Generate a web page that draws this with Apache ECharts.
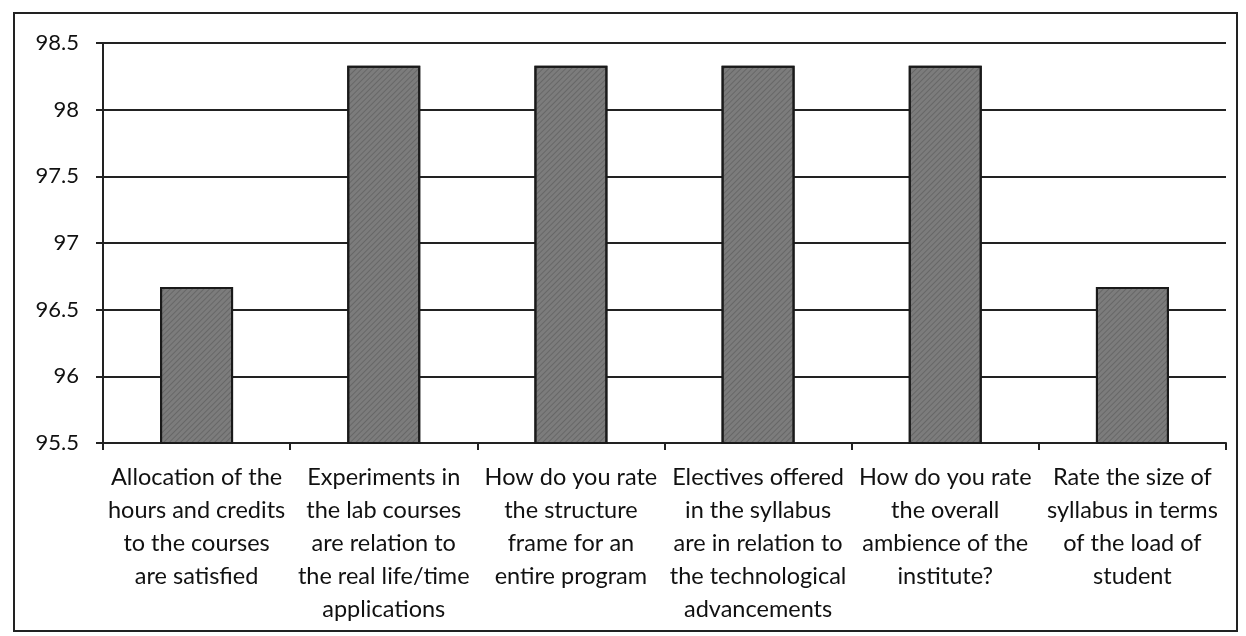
<!DOCTYPE html>
<html>
<head>
<meta charset="utf-8">
<script src="https://cdn.jsdelivr.net/npm/echarts@6/dist/echarts.min.js"></script>
<style>
  html, body { margin: 0; padding: 0; background: #fff; }
  #frame { position: absolute; left: 13px; top: 12px; width: 1225px; height: 620px; border: 2px solid #222; box-sizing: border-box; }
  #chart { width: 1246px; height: 636px; }
</style>
</head>
<body>
<div id="frame"></div>
<div id="chart"></div>
<script>
const categories = [
  'Allocation of the\nhours and credits\nto the courses\nare satisfied',
  'Experiments in\nthe lab courses\nare relation to\nthe real life/time\napplications',
  'How do you rate\nthe structure\nframe for an\nentire program',
  'Electives offered\nin the syllabus\nare in relation to\nthe technological\nadvancements',
  'How do you rate\nthe overall\nambience of the\ninstitute?',
  'Rate the size of\nsyllabus in terms\nof the load of\nstudent'
]
const scores = [96.67, 98.33, 98.33, 98.33, 98.33, 96.67]
const yMin = 95.5
const yMax = 98.5
const yStep = 0.5

const chart = echarts.init(document.getElementById('chart'))
chart.setOption({
  animation: false,
  grid: { left: 103, right: 20, top: 43, bottom: 193 },
  xAxis: {
    type: 'category',
    data: categories,
    axisLine: { lineStyle: { color: '#222', width: 2 } },
    axisTick: { show: true, length: 7, lineStyle: { color: '#222', width: 2 } },
    axisLabel: {
      interval: 0,
      color: '#111',
      fontFamily: 'Lato',
      fontSize: 23.5,
      lineHeight: 33,
      margin: 18
    }
  },
  yAxis: {
    type: 'value',
    min: yMin,
    max: yMax,
    interval: yStep,
    axisLine: { show: true, lineStyle: { color: '#222', width: 2 } },
    axisTick: { show: true, length: 7, lineStyle: { color: '#222', width: 2 } },
    splitLine: { lineStyle: { color: '#222', width: 2 } },
    axisLabel: {
      color: '#111',
      fontFamily: 'Lato',
      fontSize: 22,
      margin: 24
    }
  },
  series: [{
    type: 'bar',
    data: scores,
    barCategoryGap: '61%',
    itemStyle: {
      color: '#7c7c7c',
      borderColor: '#1a1a1a',
      borderWidth: 2,
      decal: {
        symbol: 'rect',
        color: 'rgba(40,40,40,0.25)',
        dashArrayX: [1, 0],
        dashArrayY: [1, 3],
        rotation: -Math.PI / 4
      }
    }
  }]
})
</script>
</body>
</html>
